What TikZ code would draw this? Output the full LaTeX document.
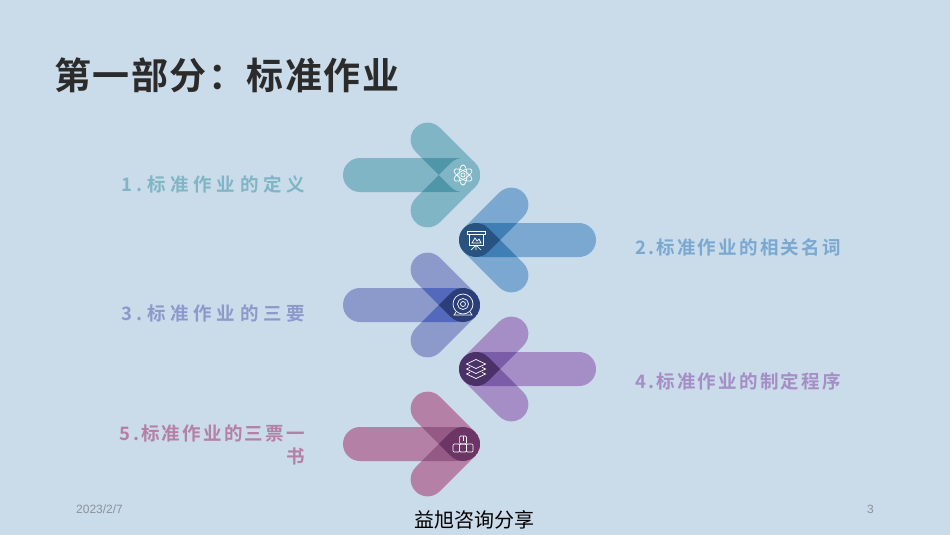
\documentclass[tikz,border=0pt]{standalone}
\usepackage{fontspec}
\setmainfont{Liberation Sans}
\newfontfamily\titlefont[LetterSpace=4]{Noto Sans CJK SC Bold}
\newfontfamily\labelfont[LetterSpace=25]{Noto Sans CJK SC Bold}
\newfontfamily\tightfont[LetterSpace=12]{Noto Sans CJK SC Bold}
\newfontfamily\notefont{Noto Sans CJK SC}
\definecolor{pagebg}{HTML}{CADBEA}
\definecolor{titleink}{HTML}{2B2B2B}
\definecolor{footink}{HTML}{8A929A}
\definecolor{tealA}{HTML}{7FB5C5}
\definecolor{tealB}{HTML}{4F97A8}
\definecolor{blueA}{HTML}{7AA8D0}
\definecolor{blueB}{HTML}{3F7FB5}
\definecolor{blueC}{HTML}{28527F}
\definecolor{indigoA}{HTML}{8B9ACB}
\definecolor{indigoB}{HTML}{5369BB}
\definecolor{indigoC}{HTML}{2C3E78}
\definecolor{violetA}{HTML}{A58DC5}
\definecolor{violetB}{HTML}{7A5CA8}
\definecolor{violetC}{HTML}{4A3268}
\definecolor{roseA}{HTML}{B580A5}
\definecolor{roseB}{HTML}{945A85}
\definecolor{roseC}{HTML}{6B3565}
\tikzset{
    %Bars of one arrow, pointing right from its tip at (0,0)
    shaft/.style={
      rounded corners=17pt,
      insert path={(-120,-17) rectangle (10,17)}},
    armup/.style={
      rotate=135,
      rounded corners=17pt,
      insert path={(-17,-17) rectangle (67,17)}},
    armlow/.style={
      rotate=-135,
      rounded corners=17pt,
      insert path={(-17,-17) rectangle (67,17)}},
    iconline/.style={
      draw=white, line width=0.7pt},
    steplabel/.style={
      anchor=east,
      inner sep=0pt,
      font=\labelfont\fontsize{18.5}{22}\selectfont},
    tightlabel/.style={
      anchor=east,
      inner sep=0pt,
      font=\tightfont\fontsize{18.5}{22}\selectfont},
    footnote/.style={
      inner sep=0pt,
      text=footink,
      font=\fontsize{12}{14}\selectfont},
    atomicon/.pic={
      \foreach \ang in {30,90,150}
        \draw[iconline] (0,0) ellipse [x radius=10, y radius=4, rotate=\ang];
      \draw[iconline] (0,0) circle (2);
    },
    boardicon/.pic={
      \draw[iconline] (-9,-9) rectangle (9,-6);
      \draw[iconline] (-7,-6) rectangle (7,5);
      \draw[iconline] (-4,3) -- (-1,-2) -- (1,1) -- (3,-1) -- (5,3) -- cycle;
      \draw[iconline] (-5,10) -- (0,5) -- (5,10) (0,5) -- (0,10);
    },
    targeticon/.pic={
      \draw[iconline] (0,-1) circle (10);
      \draw[iconline] (0,-1) circle (5.5);
      \draw[iconline] (0,-1) circle (2.5);
      \draw[iconline] (-7,7) -- (-9,10) -- (9,10) -- (7,7);
    },
    stackicon/.pic={
      \draw[iconline] (-9.5,5) -- (0,9.5) -- (9.5,5) -- (6,3.3);
      \draw[iconline] (-6,3.3) -- (-9.5,5);
      \draw[iconline] (-9.5,0) -- (0,4.5) -- (9.5,0) -- (6,-1.7);
      \draw[iconline] (-6,-1.7) -- (-9.5,0);
      \draw[iconline] (-9.5,-5) -- (0,-0.5) -- (9.5,-5) -- (0,-9.5) -- cycle;
    },
    cubeicon/.pic={
      \draw[iconline, rounded corners=1pt] (-10,0) rectangle (-3.4,8);
      \draw[iconline, rounded corners=1pt] (-3.4,0) rectangle (3.4,8);
      \draw[iconline, rounded corners=1pt] (3.4,0) rectangle (10,8);
      \draw[iconline, rounded corners=1pt] (-3.4,-8) rectangle (3.4,0);
      \draw[iconline] (0,-8) -- (0,-3);
    }
}
% tip x, tip y, direction, bar colour, overlap colour, tip colour
\newcommand{\arrowmark}[6]{
  \begin{scope}[shift={(#1,#2)}, xscale=#3]
    \fill[#4, shaft];
    \fill[#4, armup];
    \fill[#4, armlow];
    \begin{scope}
      \clip[shaft];
      \fill[#5, armup];
      \fill[#5, armlow];
    \end{scope}
    \begin{scope}
      \clip[armup];
      \fill[#6, armlow];
    \end{scope}
  \end{scope}
}

\begin{document}
\begin{tikzpicture}[x=1pt, y=-1pt]
    \fill[pagebg] (0,0) rectangle (950,535);
    \useasboundingbox (0,0) rectangle (950,535);

    \node (title) [anchor=west, inner sep=0pt, text=titleink,
          font=\titlefont\fontsize{37}{40}\selectfont] at (54,75)
          {第一部分：标准作业};

    \arrowmark{463}{175}{1}{tealA}{tealB}{tealA}
    \arrowmark{476}{240}{-1}{blueA}{blueB}{blueC}
    \arrowmark{463}{305}{1}{indigoA}{indigoB}{indigoC}
    \arrowmark{476}{369}{-1}{violetA}{violetB}{violetC}
    \arrowmark{463}{444}{1}{roseA}{roseB}{roseC}

    \pic at (463,175) {atomicon};
    \pic at (476,240) {boardicon};
    \pic at (463,305) {targeticon};
    \pic at (476,369) {stackicon};
    \pic at (463,444) {cubeicon};

    \node (one) [steplabel, text=tealA] at (305,184.5) {1.标准作业的定义};
    \node (two) [tightlabel, text=blueA] at (841,247.5) {2.标准作业的相关名词};
    \node (three) [steplabel, text=indigoA] at (305,313.5) {3.标准作业的三要};
    \node (four) [tightlabel, text=violetA] at (841,381.5) {4.标准作业的制定程序};
    \node (five) [tightlabel, text=roseA] at (305,433.5) {5.标准作业的三票一};
    \node (fiveb) [tightlabel, text=roseA] at (305,456.5) {书};

    \node (date) [footnote, anchor=west] at (76,509) {2023/2/7};
    \node (page) [footnote, anchor=east] at (874,509) {3};
    \node (share) [inner sep=0pt, text=black,
          font=\notefont\fontsize{20}{24}\selectfont] at (474.5,520)
          {益旭咨询分享};
\end{tikzpicture}
\end{document}
